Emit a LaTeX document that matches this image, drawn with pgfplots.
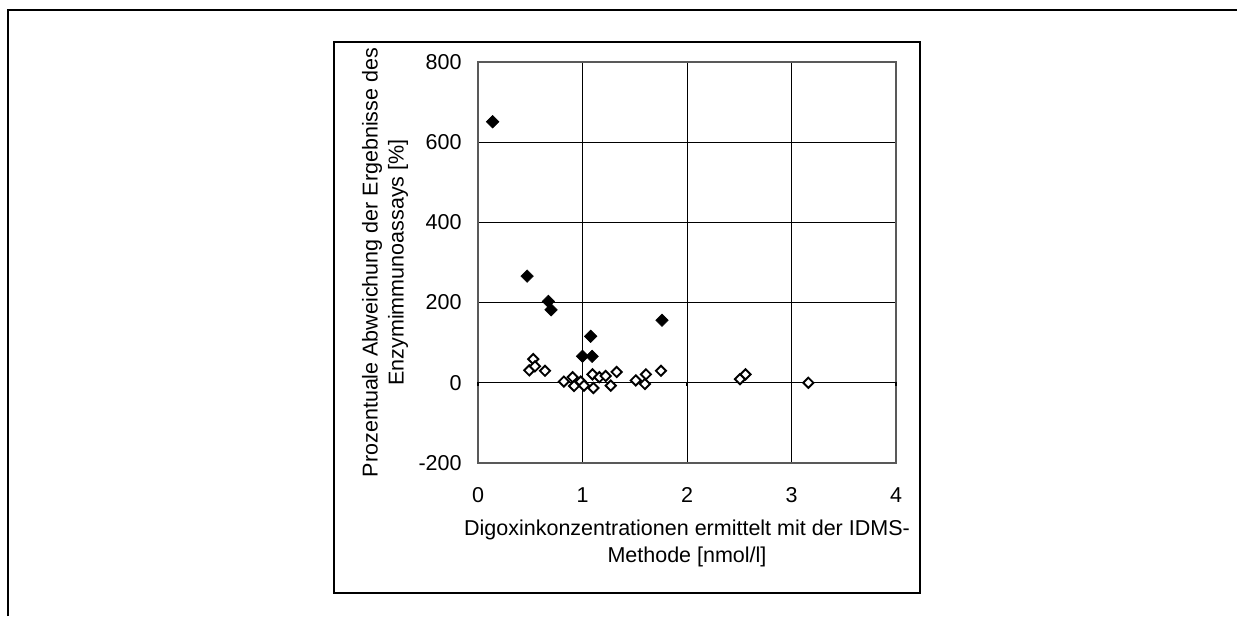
\documentclass[border=0pt]{standalone}
\usepackage{pgfplots}
\pgfplotsset{compat=1.18}
\usepackage{fontspec}
\setmainfont{Liberation Sans}
\begin{document}
\begin{tikzpicture}
\path[use as bounding box] (0pt,0pt) rectangle (618.5pt,308pt);
\draw[line width=1pt] (4pt,0pt) -- (4pt,303pt) -- (618.5pt,303pt);
\draw[line width=0.6pt] (167pt,11.5pt) rectangle (460pt,287pt);
\begin{axis}[
  at={(239pt,76.5pt)}, anchor=south west,
  scale only axis, width=209pt, height=200.5pt,
  xmin=0, xmax=4, ymin=-200, ymax=800,
  xtick={0,1,2,3,4}, ytick={-200,0,200,400,600,800},
  grid=major,
  grid style={black, line width=0.5pt},
  axis line style={draw=gray!70!black, line width=0.7pt},
  tick style={draw=none},
  /pgf/number format/assume math mode=true,
  tick label style={font=\fontsize{10.75}{13}\selectfont},
  yticklabel style={inner sep=0pt, xshift=-8pt},
  xticklabel style={inner sep=0pt, yshift=-12pt},
  xlabel={Digoxinkonzentrationen ermittelt mit der IDMS-\\Methode [nmol/l]},
  xlabel style={align=center, font=\fontsize{10.75}{13.5}\selectfont, at={(axis description cs:0.5,-0.1995)}, anchor=center},
  ylabel={Prozentuale Abweichung der Ergebnisse des\\Enzymimmunoassays [\%]},
  ylabel style={align=center, font=\fontsize{10.75}{13}\selectfont, at={(axis description cs:-0.2225,0.5)}, anchor=center},
  clip=false,
]
\draw[black, line width=0.6pt] (axis cs:0,0) -- (axis cs:4,0);
\draw[black, line width=0.6pt] (axis cs:0,3) -- (axis cs:0,-9);
\draw[black, line width=0.6pt] (axis cs:1,3) -- (axis cs:1,-9);
\draw[black, line width=0.6pt] (axis cs:2,3) -- (axis cs:2,-9);
\draw[black, line width=0.6pt] (axis cs:3,3) -- (axis cs:3,-9);
\draw[black, line width=0.6pt] (axis cs:4,3) -- (axis cs:4,-9);
\addplot[only marks, mark=square*, mark size=1.8pt, mark options={rotate=45, fill=white, draw=black, line width=0.95pt}] coordinates {
(0.529,59) (0.491,31) (0.545,41) (0.641,30) (0.822,3) (0.906,14) (0.919,-8) (0.983,3) (1.014,-7) (1.096,21) (1.104,-13) (1.161,14) (1.222,17) (1.27,-7) (1.327,27) (1.51,6) (1.598,-3) (1.607,21) (1.751,30) (2.507,9) (2.56,21) (3.161,0)
};
\addplot[only marks, mark=square*, mark size=2.2pt, mark options={rotate=45, fill=black, draw=black, line width=0.3pt}] coordinates {
(0.14,651) (0.47,266) (0.673,203) (0.699,182) (1.078,116) (1.0,66) (1.092,66) (1.761,156)
};
\end{axis}
\end{tikzpicture}
\end{document}
